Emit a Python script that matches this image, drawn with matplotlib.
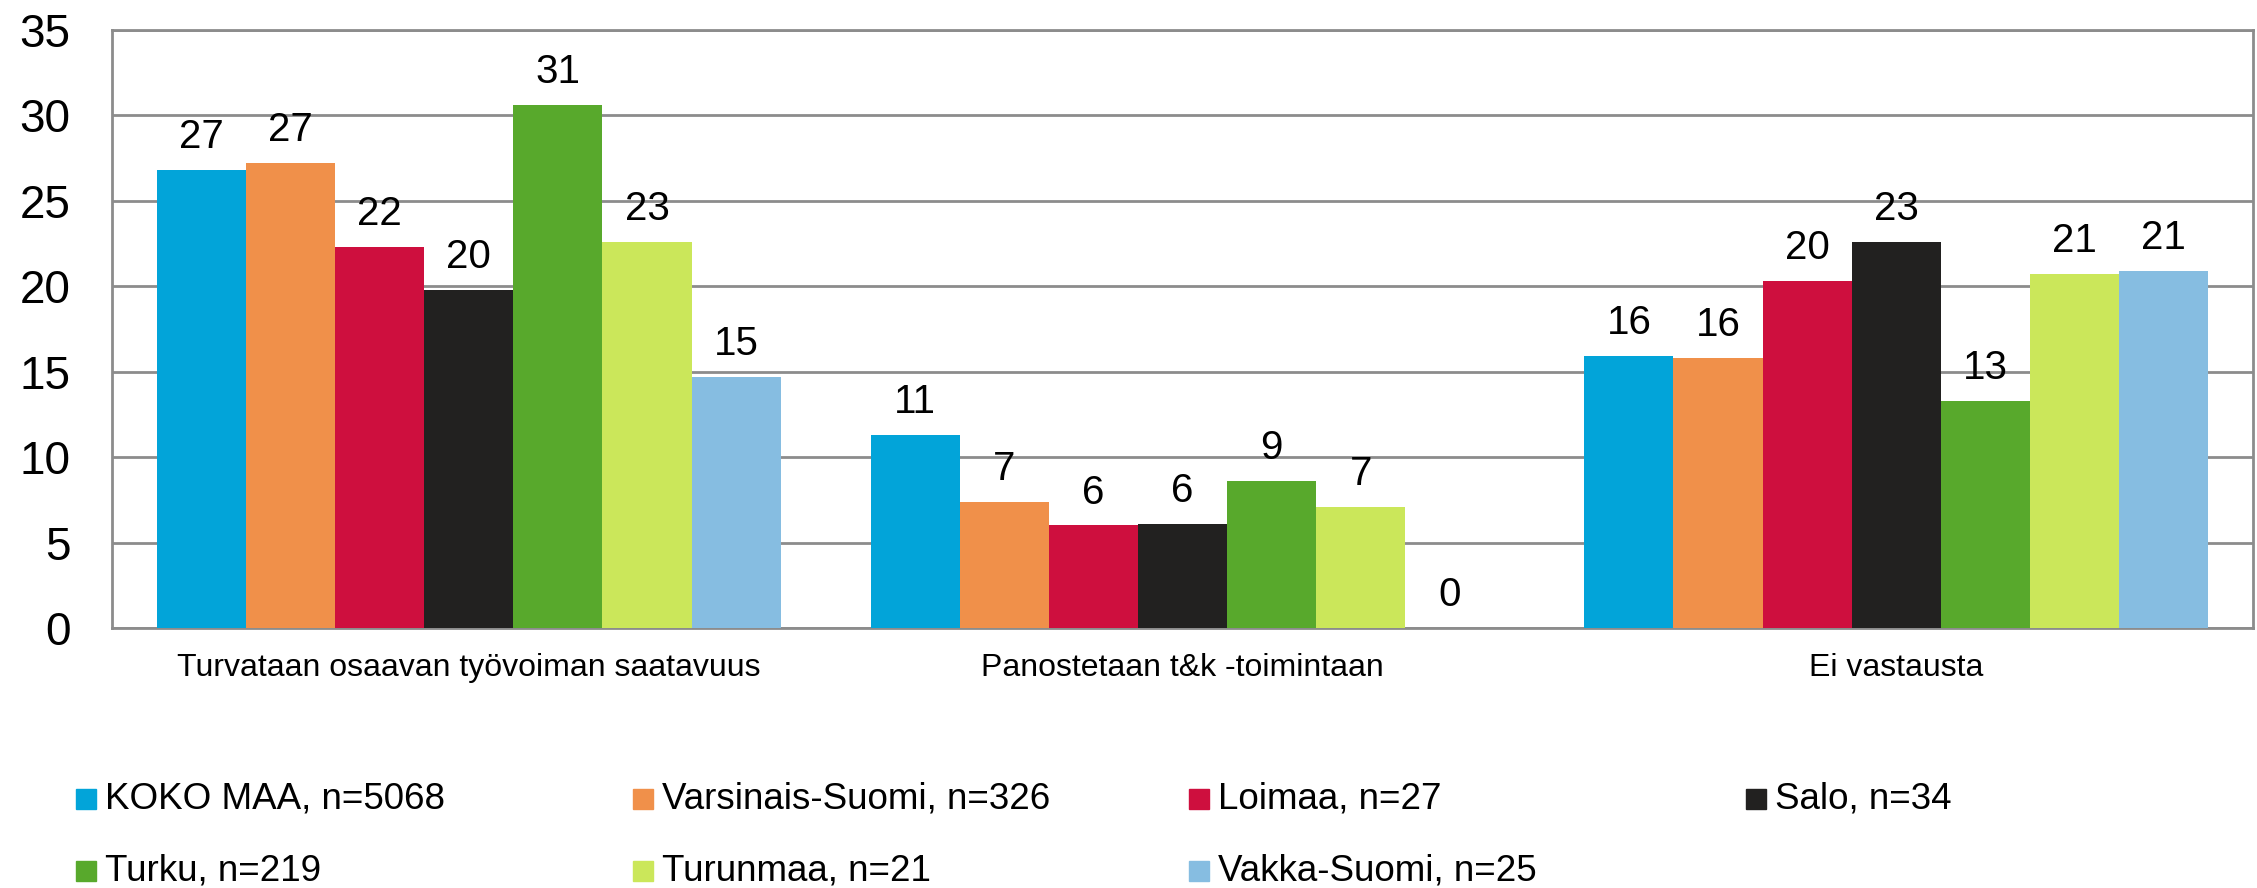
import numpy as np
import matplotlib.pyplot as plt
from matplotlib.patches import Rectangle

plt.rcParams['font.family'] = ['Liberation Sans', 'DejaVu Sans']

categories = ["Turvataan osaavan työvoiman saatavuus",
              "Panostetaan t&k -toimintaan",
              "Ei vastausta"]
series = ["KOKO MAA, n=5068", "Varsinais-Suomi, n=326", "Loimaa, n=27",
          "Salo, n=34", "Turku, n=219", "Turunmaa, n=21", "Vakka-Suomi, n=25"]
koko_maa = [26.8, 11.3, 15.9]
varsinais_suomi = [27.2, 7.4, 15.8]
loimaa = [22.3, 6.0, 20.3]
salo = [19.8, 6.1, 22.6]
turku = [30.6, 8.6, 13.3]
turunmaa = [22.6, 7.1, 20.7]
vakka_suomi = [14.7, 0.0, 20.9]
values = [koko_maa, varsinais_suomi, loimaa, salo, turku, turunmaa, vakka_suomi]
colors = ['#02A4D9', '#F0904A', '#CE0F3E', '#222120', '#58A92C', '#CBE75A', '#86BDE1']

fig = plt.figure(figsize=(22.57, 8.88), dpi=100)
ax = fig.add_axes([112 / 2257, 1 - 628 / 888, (2253 - 112) / 2257, (628 - 30) / 888])

x = np.arange(len(categories))
width = 0.874 / len(series)
for i, (vals, col) in enumerate(zip(values, colors)):
    bars = ax.bar(x + (i - 3) * width, vals, width, color=col, zorder=3)
    ax.bar_label(bars, labels=[f"{v:.0f}" for v in vals], padding=10, fontsize=29)

ax.set_xlim(-0.5, 2.5)
ax.set_ylim(0, 35)
ax.set_yticks(range(0, 36, 5))
ax.set_xticks(x)
ax.set_xticklabels(categories, fontsize=23)
ax.tick_params(axis='y', labelsize=33, length=0, pad=30)
ax.tick_params(axis='x', length=0, pad=18)
ax.yaxis.grid(True, color='#8c8c8c', linewidth=2, zorder=0)
for s in ax.spines.values():
    s.set_color('#8c8c8c')
    s.set_linewidth(2)

# legend drawn as a fixed 4-column grid
for i, (name, col) in enumerate(zip(series, colors)):
    c, r = i % 4, i // 4
    x0 = 76 + c * 556.7
    yc = 799 + r * 72
    fig.add_artist(Rectangle((x0 / 2257, 1 - (yc + 10) / 888), 20 / 2257, 20 / 888,
                             transform=fig.transFigure, color=col))
    fig.text((x0 + 29) / 2257, 1 - yc / 888, name, fontsize=26.5, va='center', ha='left')

fig.savefig('out.png', dpi=100)
